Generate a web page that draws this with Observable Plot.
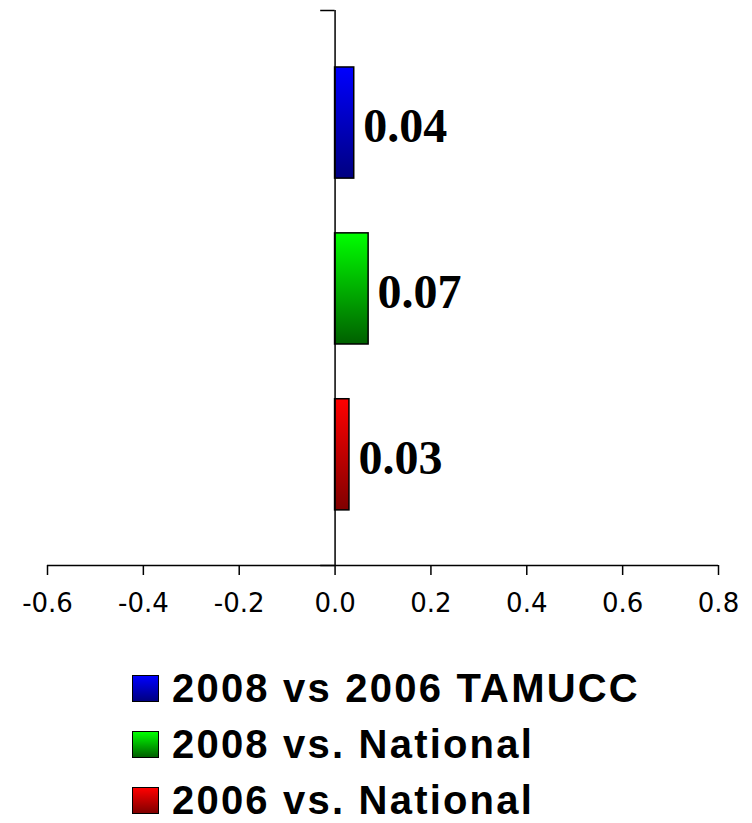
<!DOCTYPE html>
<html><head><meta charset="utf-8">
<script src="https://cdn.jsdelivr.net/npm/d3@7"></script>
<script src="https://cdn.jsdelivr.net/npm/@observablehq/plot@0.6"></script>
<style>
body{margin:0;background:#fff;overflow:hidden;}
#legend{padding-left:132px;padding-top:30px;}
.row{display:flex;align-items:center;height:36px;line-height:36px;margin-bottom:20px;font:bold 40px "Liberation Sans",Arial,sans-serif;letter-spacing:2.2px;color:#000;}
.row:last-child{margin-bottom:0;}
.sw{width:25px;height:25px;border:1px solid #000;margin-right:13px;flex:none;}
</style></head><body>
<div id="chart"></div><div id="legend"></div>
<script>
const categories = ["2008 vs 2006 TAMUCC", "2008 vs. National", "2006 vs. National"];
const values = [0.04, 0.07, 0.03];
const topColors = ["#0000ff", "#00ff00", "#ff0000"];
const bottomColors = ["#000080", "#006000", "#800000"];
const xTicks = [-0.6, -0.4, -0.2, 0, 0.2, 0.4, 0.6, 0.8];

const band = d3.scaleBand(categories, [0.16, 2.85]).paddingInner(0.33).paddingOuter(0.165);
const rows = categories.map((c, i) => ({
  cat: c, value: values[i],
  y1: band(c), y2: band(c) + band.bandwidth(),
  fill: `url(#grad${i})`
}));

const plot = Plot.plot({
  width: 752, height: 640,
  marginLeft: 47, marginRight: 34, marginTop: 10, marginBottom: 75,
  style: {fontFamily: "DejaVu Sans", fontSize: "26px", color: "#000", background: "#fff"},
  x: {domain: [-0.6, 0.8], ticks: xTicks, tickSize: 10, tickPadding: 18, tickFormat: d => d.toFixed(1), label: null},
  y: {domain: [0, 3], reverse: true, axis: null},
  color: {type: "identity"},
  marks: [
    Plot.rect(rows, {x1: 0, x2: "value", y1: "y1", y2: "y2", fill: "fill", stroke: "#000", strokeWidth: 1.5}),
    Plot.ruleX([0], {stroke: "#000", strokeWidth: 1.5}),
    Plot.ruleY([0, 3], {x1: -0.03, x2: 0, stroke: "#000", strokeWidth: 1.5}),
    Plot.ruleY([3], {stroke: "#000", strokeWidth: 1.5}),
    Plot.text(rows, {x: "value", y: d => (d.y1 + d.y2) / 2, text: d => d.value.toFixed(2), dx: 9, dy: 4,
      textAnchor: "start", fontSize: 48, fontWeight: "bold", fontFamily: "Liberation Serif", fill: "#000"})
  ]
});
document.getElementById("chart").appendChild(plot);
const svg = plot.tagName.toLowerCase() === "svg" ? plot : plot.querySelector("svg");
const ns = "http://www.w3.org/2000/svg";
const defs = document.createElementNS(ns, "defs");
categories.forEach((c, i) => {
  const g = document.createElementNS(ns, "linearGradient");
  g.setAttribute("id", `grad${i}`);
  g.setAttribute("x1", "0"); g.setAttribute("y1", "0"); g.setAttribute("x2", "0"); g.setAttribute("y2", "1");
  [[0, topColors[i]], [1, bottomColors[i]]].forEach(([o, col]) => {
    const s = document.createElementNS(ns, "stop");
    s.setAttribute("offset", o); s.setAttribute("stop-color", col);
    g.appendChild(s);
  });
  defs.appendChild(g);
});
svg.insertBefore(defs, svg.firstChild);
svg.querySelectorAll("[aria-label='x-axis'] path, [aria-label='x-axis tick'] path").forEach(p => p.setAttribute("stroke-width", 1.5));

const legend = document.getElementById("legend");
categories.forEach((c, i) => {
  const r = document.createElement("div"); r.className = "row";
  const s = document.createElement("div"); s.className = "sw";
  s.style.background = `linear-gradient(${topColors[i]}, ${bottomColors[i]})`;
  const t = document.createElement("span"); t.textContent = c;
  r.appendChild(s); r.appendChild(t); legend.appendChild(r);
});
</script>
</body></html>
